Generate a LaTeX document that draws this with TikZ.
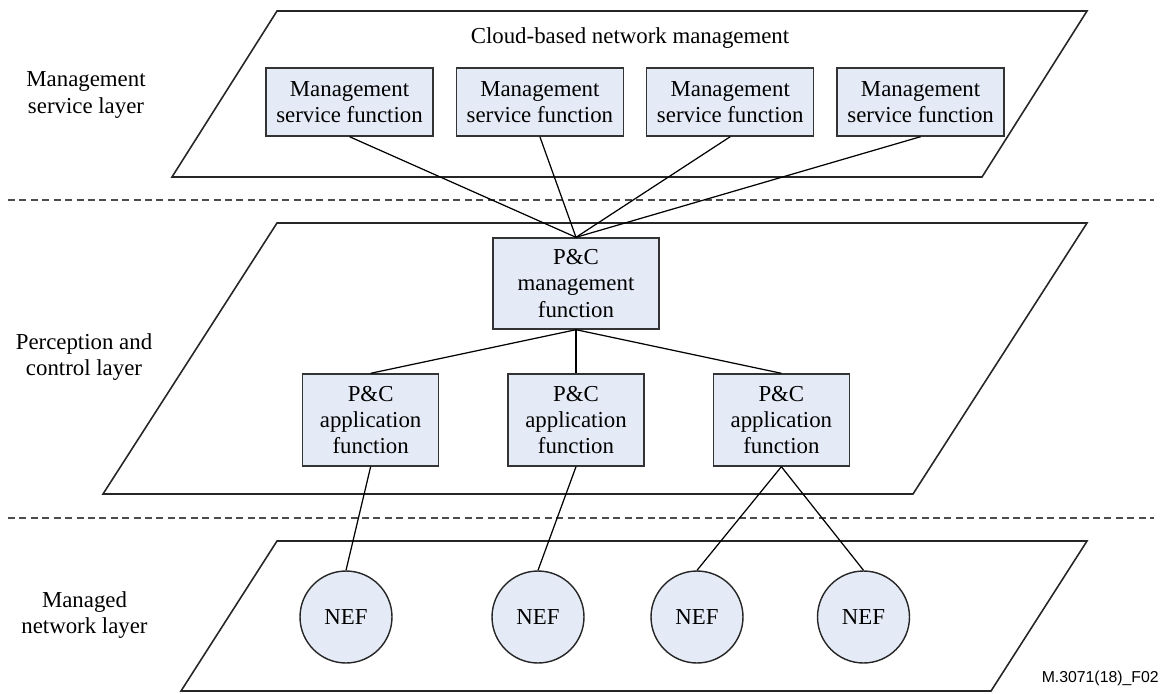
\documentclass[tikz,border=0pt]{standalone}
\usepackage{fontspec}
\setmainfont{Liberation Serif}
\newfontfamily\figsans{Liberation Sans}
\usetikzlibrary{positioning}

\definecolor{boxfill}{RGB}{228,235,246}

\begin{document}
\begin{tikzpicture}[x=0.02cm, y=-0.02cm,
	font=\fontsize{13}{15}\selectfont,
	fbox/.style={rectangle, draw=black!80, fill=boxfill, line width=0.8pt, align=center, inner sep=2pt},
	msf/.style={fbox, minimum width=3.34cm, minimum height=1.36cm},
	appfn/.style={fbox, minimum width=2.72cm, minimum height=1.84cm},
	nef/.style={circle, draw=black!85, fill=boxfill, line width=0.8pt, minimum size=1.84cm, inner sep=0pt},
	layer/.style={draw=black!85, line width=0.9pt},
	sep/.style={draw=black!70, line width=0.8pt, dash pattern=on 4pt off 2.5pt},
	link/.style={draw, line width=0.7pt}]

	\useasboundingbox (0,0) rectangle (1166,693);

	% layer planes
	\draw[layer] (277,11) -- (1087,11) -- (982,177) -- (172,177) -- cycle;
	\draw[layer] (277,223) -- (1087,223) -- (913,494) -- (103,494) -- cycle;
	\draw[layer] (277,541) -- (1087,541) -- (991,691) -- (181,691) -- cycle;

	% layer borders
	\draw[sep] (8,200) -- (1154,200);
	\draw[sep] (8,518) -- (1154,518);

	\node[align=center] (lblms) at (86,95) {Management\\service layer};
	\node[align=center] (lblpc) at (84,357) {Perception and\\control layer};
	\node[align=center] (lblmn) at (84.5,615) {Managed\\network layer};

	\node (cloud) at (630,38) {Cloud-based network management};

	\node[msf] (msf1) at (349.5,102) {Management\\service function};
	\node[msf, right=0.44cm of msf1] (msf2) {Management\\service function};
	\node[msf, right=0.44cm of msf2] (msf3) {Management\\service function};
	\node[msf, right=0.44cm of msf3] (msf4) {Management\\service function};

	\node[fbox, minimum width=3.32cm, minimum height=1.82cm] (pcm) at (576,283.5) {P\&C\\management\\function};

	\node[appfn] (app2) at (576,420) {P\&C\\application\\function};
	\node[appfn, left=1.36cm of app2] (app1) {P\&C\\application\\function};
	\node[appfn, right=1.36cm of app2] (app3) {P\&C\\application\\function};

	\node[nef] (nef1) at (346,617) {NEF};
	\node[nef] (nef2) at (538,617) {NEF};
	\node[nef] (nef3) at (697,617) {NEF};
	\node[nef] (nef4) at (863.5,617) {NEF};

	\node[anchor=base east, inner sep=0pt, font=\figsans\fontsize{9}{10}\selectfont] (figid) at (1159,682) {M.3071(18)\_F02};

	\draw[link] (msf1.south) -- (pcm.north);
	\draw[link] (msf2.south) -- (pcm.north);
	\draw[link] (msf3.south) -- (pcm.north);
	\draw[link] (msf4.south) -- (pcm.north);

	\draw[link] (pcm.south) -- (app1.north);
	\draw[link] (pcm.south) -- (app2.north);
	\draw[link] (pcm.south) -- (app3.north);

	\draw[link] (app1.south) -- (nef1.north);
	\draw[link] (app2.south) -- (nef2.north);
	\draw[link] (app3.south) -- (nef3.north);
	\draw[link] (app3.south) -- (nef4.north);

\end{tikzpicture}
\end{document}
